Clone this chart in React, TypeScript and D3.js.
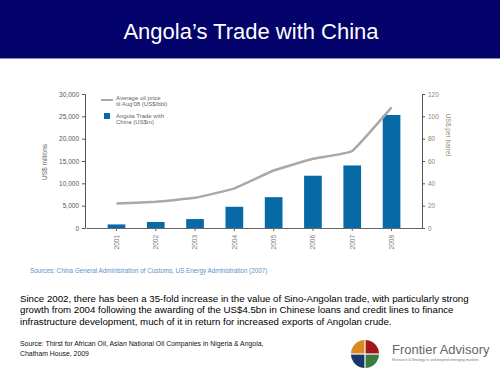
import * as d3 from "d3";
import { useEffect, useRef } from "react";

const years = ["2001", "2002", "2003", "2004", "2005", "2006", "2007", "2008"];
const tradeValues = [800, 1350, 2000, 4750, 6900, 11700, 14000, 25300];
const oilPrice = [22, 23.5, 27, 35.5, 51.5, 62, 69, 108];
const leftTicks = [0, 5000, 10000, 15000, 20000, 25000, 30000];
const rightTicks = [0, 20, 40, 60, 80, 100, 120];
const bodyLines = [
  "Since 2002, there has been a 35-fold increase in the value of Sino-Angolan trade, with particularly strong",
  "growth from 2004 following the awarding of the US$4.5bn in Chinese loans and credit lines to finance",
  "infrastructure development, much of it in return for increased exports of Angolan crude.",
];
const sourceLines = [
  "Source: Thirst for African Oil, Asian National Oil Companies in Nigeria & Angola,",
  "Chatham House, 2009",
];

function TradeChart() {
  const svgRef = useRef(null);

  useEffect(() => {
    const svg = d3.select(svgRef.current);
    svg.selectAll("*").remove();
    const font = "Liberation Sans, Arial, sans-serif";

    // header band
    svg.append("rect").attr("x", 0).attr("y", 0).attr("width", 500).attr("height", 58).attr("fill", "#03036b");
    svg.append("line").attr("x1", 0).attr("x2", 500).attr("y1", 58.5).attr("y2", 58.5).attr("stroke", "#8a8ac0");
    svg
      .append("text")
      .attr("x", 251)
      .attr("y", 39)
      .attr("text-anchor", "middle")
      .attr("fill", "#fff")
      .attr("font-family", font)
      .attr("font-size", 22)
      .text("Angola\u2019s Trade with China");

    const x = d3.scaleBand().domain(years).range([86, 422]).padding(0.55);
    const y = d3.scaleLinear().domain([0, 30000]).range([228, 94]);
    const y2 = d3.scaleLinear().domain([0, 120]).range([228, 94]);

    const g = svg.append("g").attr("font-family", font);

    // bars
    g.selectAll(".bar")
      .data(years)
      .enter()
      .append("rect")
      .attr("x", (d) => x(d))
      .attr("y", (d, i) => y(tradeValues[i]))
      .attr("width", x.bandwidth())
      .attr("height", (d, i) => 228 - y(tradeValues[i]))
      .attr("fill", "#0769a5");

    // oil line
    const line = d3
      .line()
      .x((d, i) => x(years[i]) + x.bandwidth() / 2)
      .y((d) => y2(d))
      .curve(d3.curveCardinal.tension(0.7));
    g.append("path")
      .datum(oilPrice)
      .attr("d", line)
      .attr("fill", "none")
      .attr("stroke", "#a9a9a9")
      .attr("stroke-width", 2.5);

    // left axis
    const left = g
      .append("g")
      .attr("transform", "translate(85,0)")
      .call(d3.axisLeft(y).tickValues(leftTicks).tickSize(3).tickFormat(d3.format(",")));
    left.select(".domain").attr("stroke", "#555");
    left.selectAll("line").attr("stroke", "#555");
    left.selectAll("text").attr("fill", "#555").attr("font-size", 6.5).attr("font-family", font);

    // right axis
    const right = g
      .append("g")
      .attr("transform", "translate(422,0)")
      .call(d3.axisRight(y2).tickValues(rightTicks).tickSize(3));
    right.select(".domain").attr("stroke", "#555");
    right.selectAll("line").attr("stroke", "#555");
    right.selectAll("text").attr("fill", "#9a8468").attr("font-size", 6.5).attr("font-family", font);

    // bottom axis
    const bottom = g
      .append("g")
      .attr("transform", "translate(0,228)")
      .call(d3.axisBottom(x).tickSize(3).tickSizeOuter(0));
    bottom.select(".domain").attr("stroke", "#666");
    bottom.selectAll("line").attr("stroke", "#666");
    bottom
      .selectAll("text")
      .attr("fill", "#777")
      .attr("font-size", 6.5)
      .attr("font-family", font)
      .attr("transform", "rotate(-90)")
      .attr("text-anchor", "end")
      .attr("x", -7)
      .attr("y", 0)
      .attr("dy", "0.35em");

    // axis titles
    g.append("text")
      .attr("transform", "translate(47,162) rotate(-90)")
      .attr("text-anchor", "middle")
      .attr("fill", "#666")
      .attr("font-size", 6.5)
      .text("US$ millions");
    g.append("text")
      .attr("transform", "translate(446,135) rotate(90)")
      .attr("text-anchor", "middle")
      .attr("fill", "#9a8468")
      .attr("font-size", 6.5)
      .text("US$ per barrel");

    // legend
    g.append("line").attr("x1", 101).attr("x2", 113).attr("y1", 100).attr("y2", 100).attr("stroke", "#a9a9a9").attr("stroke-width", 2);
    g.append("text").attr("x", 116).attr("y", 100).attr("font-size", 6).attr("fill", "#666").text("Average oil price");
    g.append("text").attr("x", 116).attr("y", 106).attr("font-size", 6).attr("fill", "#666").text("til Aug'08 (US$/bbl)");
    g.append("rect").attr("x", 104).attr("y", 113).attr("width", 6).attr("height", 6).attr("fill", "#0769a5");
    g.append("text").attr("x", 116).attr("y", 118).attr("font-size", 6).attr("fill", "#666").text("Angola Trade with");
    g.append("text").attr("x", 116).attr("y", 124).attr("font-size", 6).attr("fill", "#666").text("China (US$m)");

    // sources
    svg
      .append("text")
      .attr("x", 30)
      .attr("y", 273)
      .attr("font-family", font)
      .attr("font-size", 6.3)
      .attr("fill", "#5b93c8")
      .text("Sources: China General Administration of Customs, US Energy Administration (2007)");

    svg
      .append("g")
      .attr("font-family", font)
      .attr("font-size", 9.7)
      .attr("fill", "#000")
      .selectAll("text")
      .data(bodyLines)
      .enter()
      .append("text")
      .attr("x", 20)
      .attr("y", (d, i) => 302 + i * 11.3)
      .text((d) => d);

    svg
      .append("g")
      .attr("font-family", font)
      .attr("font-size", 6.9)
      .attr("fill", "#111")
      .selectAll("text")
      .data(sourceLines)
      .enter()
      .append("text")
      .attr("x", 20)
      .attr("y", (d, i) => 346 + i * 9.5)
      .text((d) => d);

    // logo
    const cx = 365;
    const cy = 354;
    const r = 14;
    const quads = [
      { a0: -Math.PI / 2, a1: 0, c: "#a3161b" },
      { a0: 0, a1: Math.PI / 2, c: "#3b7b3d" },
      { a0: Math.PI / 2, a1: Math.PI, c: "#16386b" },
      { a0: Math.PI, a1: 1.5 * Math.PI, c: "#d98a1f" },
    ];
    const arc = d3.arc().innerRadius(0).outerRadius(r);
    const logo = svg.append("g").attr("transform", `translate(${cx},${cy})`);
    quads.forEach((q) => {
      logo
        .append("path")
        .attr("d", arc({ startAngle: q.a0 + Math.PI / 2, endAngle: q.a1 + Math.PI / 2 }))
        .attr("fill", q.c);
    });
    logo.append("line").attr("x1", -r).attr("x2", r).attr("y1", 0).attr("y2", 0).attr("stroke", "#fff").attr("stroke-width", 1.2);
    logo.append("line").attr("x1", 0).attr("x2", 0).attr("y1", -r).attr("y2", r).attr("stroke", "#fff").attr("stroke-width", 1.2);
    svg
      .append("text")
      .attr("x", 392)
      .attr("y", 354)
      .attr("font-family", font)
      .attr("font-size", 13)
      .attr("fill", "#666")
      .text("Frontier Advisory");
    svg
      .append("text")
      .attr("x", 392)
      .attr("y", 361)
      .attr("font-family", font)
      .attr("font-size", 3.6)
      .attr("fill", "#777")
      .text("Research & Strategy in and beyond emerging markets");
  }, []);

  return (
    <svg
      ref={svgRef}
      width="500"
      height="375"
      style={{ position: "absolute", left: 0, top: 0, background: "#fff" }}
    ></svg>
  );
}

export default function App() {
  return <TradeChart />;
}
